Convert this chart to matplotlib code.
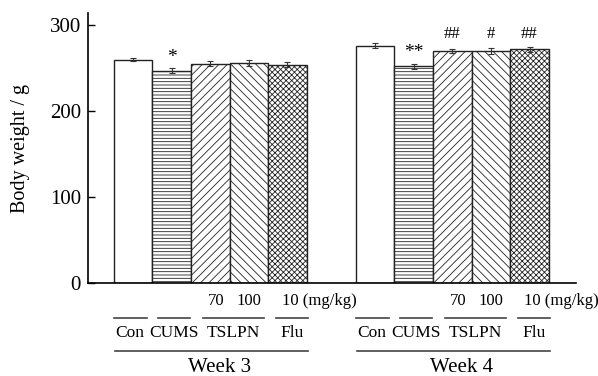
import matplotlib
matplotlib.use("Agg")
import numpy as np
import matplotlib.pyplot as plt
import matplotlib.transforms as mtransforms

plt.rcParams['font.family'] = ['Liberation Serif', 'DejaVu Serif']
plt.rcParams['hatch.linewidth'] = 0.6

# Data
groups = ["Con", "CUMS", "TSLPN", "Flu"]
doses = ["", "", "70", "100", "10 (mg/kg)"]
weeks = ["Week 3", "Week 4"]
week3_mean = [260, 247, 255, 256, 254]
week3_err = [2, 3, 3, 4, 3]
week4_mean = [276, 252, 270, 270, 272]
week4_err = [3, 3, 2, 4, 3]
week3_marks = ["", "*", "", "", ""]
week4_marks = ["", "**", "##", "#", "##"]
hatches = ["", "-----", "////", "\\\\\\\\", "xxxxxx"]

fig = plt.figure(figsize=(5.98, 3.76), dpi=100)
ax = fig.add_axes([0.147, 0.247, 0.816, 0.718])

week_offset = 6.27
x3 = np.arange(5)
x4 = x3 + week_offset

for xs, means, errs, marks in [(x3, week3_mean, week3_err, week3_marks),
                               (x4, week4_mean, week4_err, week4_marks)]:
    for x, m, e, h, s in zip(xs, means, errs, hatches, marks):
        ax.bar(x, m, width=1.0, color="white", edgecolor="#222222",
               linewidth=1.0, hatch=h)
        ax.errorbar(x, m, yerr=e, fmt="none", ecolor="#333333",
                    elinewidth=0.8, capsize=2, capthick=0.8)
        if s.startswith("#"):
            ax.text(x, 290, s, ha="center", va="center", fontsize=12)
        elif s:
            ax.text(x, m + e + 13, s, ha="center", va="center", fontsize=14)

ax.set_xlim(-1.17, 11.47)
ax.set_ylim(0, 314)
ax.set_yticks([0, 100, 200, 300])
ax.set_xticks([])
ax.tick_params(axis="y", direction="in", length=5, width=1, pad=5, labelsize=15)
for side in ["top", "right"]:
    ax.spines[side].set_visible(False)
ax.spines["left"].set_linewidth(1.2)
ax.spines["bottom"].set_linewidth(1.2)
ax.set_ylabel("Body weight / g", fontsize=14.5, labelpad=14)

# group annotations under the axis
trans = mtransforms.blended_transform_factory(ax.transData, fig.transFigure)
y_dose = 1 - 301 / 376
y_short = 1 - 318 / 376
y_name = 1 - 333 / 376
y_long = 1 - 351 / 376
y_week = 1 - 368 / 376
lkw = dict(color="#444444", linewidth=1.2, transform=trans, clip_on=False)

for xs, week in [(x3, weeks[0]), (x4, weeks[1])]:
    for i, dx in ((2, 0.15), (3, 0.0)):
        ax.text(xs[i] + dx, y_dose, doses[i], transform=trans,
                ha="center", va="center", fontsize=12)
    ax.text(xs[4] - 0.15, y_dose, doses[4], transform=trans,
            ha="left", va="center", fontsize=12)
    # short lines and group names
    spans = [(xs[0] - 0.5, xs[0] + 0.35),
             (xs[1] - 0.35, xs[1] + 0.47),
             (xs[2] - 0.2, xs[3] + 0.38),
             (xs[4] - 0.3, xs[4] + 0.53)]
    for (a, b), name in zip(spans, groups):
        ax.plot([a, b], [y_short, y_short], **lkw)
        ax.text((a + b) / 2, y_name, name, transform=trans,
                ha="center", va="center", fontsize=12.5)
    ax.plot([xs[0] - 0.48, xs[4] + 0.52], [y_long, y_long], **lkw)
    ax.text(xs[2] + 0.25, y_week, week, transform=trans,
            ha="center", va="center", fontsize=15)

fig.savefig("out.png", dpi=100)
